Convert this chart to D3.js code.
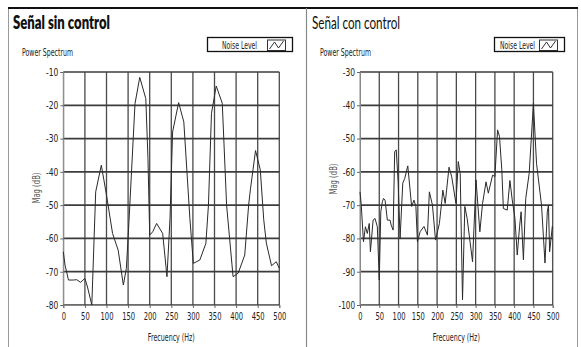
<!DOCTYPE html>
<html>
<head>
<meta charset="utf-8">
<script src="https://cdn.jsdelivr.net/npm/d3@7"></script>
<style>
  html, body { margin: 0; padding: 0; background: #fff; }
  svg { display: block; }
  .small { font-family: "DejaVu Sans", sans-serif; }
</style>
</head>
<body>
<svg id="chart" width="581" height="347"></svg>
<script>
// Spectrum without control: frequency (Hz) and magnitude (dB)
const freqSin = [0, 4, 12, 23, 31, 40, 50, 56, 66, 75, 88, 100, 114, 127, 139, 146, 152, 166, 177, 191, 196, 200, 207, 216, 230, 240, 247, 253, 267, 279, 293, 301, 316, 330, 336, 343, 354, 368, 378, 393, 405, 420, 429, 433, 445, 456, 464, 470, 482, 493, 500];
const magSin  = [-64, -68, -72.5, -72.5, -72.4, -73.2, -72, -74.6, -80, -46, -38, -47, -58.5, -63.5, -74, -69, -55, -19.5, -11.6, -18, -36, -59, -58, -55.5, -58.5, -71.5, -54, -28, -19.2, -25, -54, -67.5, -66.5, -61.5, -50, -22.4, -14.2, -19.4, -50, -71.5, -70.4, -65, -50, -45.4, -33.6, -39.4, -54.4, -61.4, -68.2, -67, -69];

// Spectrum with control
const freqCon = [0, 3, 9, 14, 19, 24, 27, 34, 39, 45, 50, 54, 58, 61, 65, 71, 78, 81, 86, 90, 94, 99, 104, 111, 116, 124, 130, 134, 140, 145, 149, 156, 166, 175, 180, 188, 196, 206, 212, 215, 221, 231, 238, 249, 255, 260, 266, 272, 278, 292, 301, 311, 318, 327, 333, 344, 350, 357, 362, 368, 372, 382, 389, 395, 402, 408, 414, 418, 424, 430, 439, 450, 458, 471, 480, 486, 489, 492, 499, 500];
const magCon  = [-66, -69.5, -81, -76.5, -78.5, -75.5, -84, -74.5, -74, -76.5, -92.5, -72, -69, -68, -68.5, -74.5, -74.5, -76, -77.5, -54, -53.4, -63, -80, -63.4, -62, -58.2, -65.5, -70.4, -68.5, -70.4, -81, -78, -76.4, -79, -66, -70, -80.5, -75.5, -69, -65.5, -69.5, -58.6, -61.5, -69.5, -56.9, -60.5, -98.4, -70.4, -74, -87, -62.4, -78, -69.5, -63, -66.4, -61, -61.4, -47.4, -49.4, -59.4, -71, -71.5, -62.6, -68.4, -74, -85, -76.5, -72, -86.4, -68, -60.4, -39.4, -57.4, -70, -87.4, -72, -70, -84, -76.4, -77];

// Tick values
const xTicks = [0, 50, 100, 150, 200, 250, 300, 350, 400, 450, 500];
const yTicksSin = [-10, -20, -30, -40, -50, -60, -70, -80];
const yTicksCon = [-30, -40, -50, -60, -70, -80, -90, -100];

const svg = d3.select("#chart");

// Squeeze small labels into a narrow, condensed look
function narrow(sel, perChar) {
  sel.attr("textLength", function () { return this.textContent.length * perChar; })
     .attr("lengthAdjust", "spacingAndGlyphs");
}

// Outer frame and panel divider
svg.append("rect").attr("x", 8.5).attr("y", 8).attr("width", 569).attr("height", 345)
  .attr("fill", "none").attr("stroke", "#9a9a9a").attr("stroke-width", 1);
svg.append("line").attr("x1", 8).attr("x2", 578).attr("y1", 8).attr("y2", 8)
  .attr("stroke", "#111").attr("stroke-width", 2);
svg.append("line").attr("x1", 306.5).attr("x2", 306.5).attr("y1", 8).attr("y2", 347)
  .attr("stroke", "#8a8a8a").attr("stroke-width", 1.2);

function drawPanel(cfg) {
  const g = svg.append("g");

  // Title
  g.append("text")
    .attr("x", cfg.titleX).attr("y", 29)
    .attr("font-family", "Lato, 'Open Sans', sans-serif")
    .attr("font-size", 18)
    .attr("font-weight", cfg.bold ? 800 : 400)
    .attr("fill", "#111")
    .attr("textLength", cfg.titleW).attr("lengthAdjust", "spacingAndGlyphs")
    .text(cfg.title);

  // "Power Spectrum" caption
  g.append("text").attr("class", "small")
    .attr("x", cfg.capX).attr("y", 56)
    .attr("font-size", 11).attr("fill", "#222")
    .attr("textLength", 51).attr("lengthAdjust", "spacingAndGlyphs")
    .text("Power Spectrum");

  // Legend box
  const lg = g.append("g");
  lg.append("rect").attr("x", cfg.legX).attr("y", 37.5).attr("width", cfg.legW).attr("height", 14)
    .attr("fill", "#fff").attr("stroke", "#111").attr("stroke-width", 1.3);
  lg.append("text").attr("class", "small")
    .attr("x", cfg.legTextX).attr("y", 48.5)
    .attr("font-size", 11).attr("fill", "#222")
    .attr("textLength", 35).attr("lengthAdjust", "spacingAndGlyphs")
    .text("Noise Level");
  const sx = cfg.legX + cfg.legW - 25;
  lg.append("rect").attr("x", sx).attr("y", 40).attr("width", 18).attr("height", 11)
    .attr("fill", "#fff").attr("stroke", "#333").attr("stroke-width", 1);
  lg.append("line").attr("x1", sx).attr("x2", sx + 18).attr("y1", 51).attr("y2", 51)
    .attr("stroke", "#111").attr("stroke-width", 1.6);
  lg.append("path")
    .attr("d", `M${sx + 2},${49} L${sx + 7},${42} L${sx + 11},${48} L${sx + 16},${41}`)
    .attr("fill", "none").attr("stroke", "#333").attr("stroke-width", 1);

  const x = d3.scaleLinear().domain([0, 500]).range([cfg.x0, cfg.x1]);
  const y = d3.scaleLinear().domain(cfg.yDomain).range([cfg.yBottom, cfg.yTop]);

  // Grid
  const grid = g.append("g");
  grid.selectAll("line.v").data(xTicks).join("line").attr("class", "v")
    .attr("x1", d => x(d)).attr("x2", d => x(d))
    .attr("y1", cfg.yTop).attr("y2", cfg.yBottom)
    .attr("stroke", d => d === 0 ? "#888" : "#4a4a4a")
    .attr("stroke-width", d => d === 0 ? 1 : 1.3);
  grid.selectAll("line.h").data(cfg.yTicks).join("line").attr("class", "h")
    .attr("x1", cfg.x0).attr("x2", cfg.x1)
    .attr("y1", d => y(d)).attr("y2", d => y(d))
    .attr("stroke", "#3c3c3c").attr("stroke-width", 1.7);

  // Axes
  const yAxis = d3.axisLeft(y).tickValues(cfg.yTicks).tickSize(3).tickPadding(2)
    .tickFormat(d => String(d));
  const ya = g.append("g").attr("transform", `translate(${cfg.x0},0)`).call(yAxis);
  const xAxis = d3.axisBottom(x).tickValues(xTicks).tickSize(3).tickPadding(5)
    .tickFormat(d => String(d));
  const xa = g.append("g").attr("transform", `translate(0,${cfg.yBottom})`).call(xAxis);
  [ya, xa].forEach(a => {
    a.select(".domain").attr("stroke", "#888");
    a.selectAll(".tick line").attr("stroke", "#666");
    a.selectAll(".tick text").attr("class", "small")
      .attr("font-size", 10.5).attr("fill", "#222");
  });
  narrow(ya.selectAll(".tick text"), 4.1);
  narrow(xa.selectAll(".tick text"), 4.3);

  // Axis titles
  g.append("text").attr("class", "small")
    .attr("transform", `translate(${cfg.yTitleX},${cfg.yTitleY}) rotate(-90)`)
    .attr("text-anchor", "middle").attr("font-size", 10).attr("fill", "#555")
    .attr("textLength", 31).attr("lengthAdjust", "spacingAndGlyphs")
    .text("Mag (dB)");
  g.append("text").attr("class", "small")
    .attr("x", (cfg.x0 + cfg.x1) / 2).attr("y", 341)
    .attr("text-anchor", "middle").attr("font-size", 11).attr("fill", "#222")
    .attr("textLength", 47).attr("lengthAdjust", "spacingAndGlyphs")
    .text("Frecuency (Hz)");

  // Spectrum trace
  const line = d3.line().x(d => x(d[0])).y(d => y(d[1]));
  g.append("path")
    .datum(d3.zip(cfg.freq, cfg.mag))
    .attr("d", line)
    .attr("fill", "none").attr("stroke", "#2a2a2a").attr("stroke-width", 1);
}

drawPanel({
  title: "Señal sin control", bold: true, titleX: 13, titleW: 97,
  capX: 22, legX: 207.5, legW: 85, legTextX: 222,
  x0: 63.3, x1: 279.3, yTop: 72, yBottom: 305,
  yDomain: [-80, -10], yTicks: yTicksSin,
  yTitleX: 40, yTitleY: 188,
  freq: freqSin, mag: magSin
});

drawPanel({
  title: "Señal con control", bold: false, titleX: 312, titleW: 88,
  capX: 320, legX: 494.5, legW: 70, legTextX: 500,
  x0: 360, x1: 552.7, yTop: 72, yBottom: 305,
  yDomain: [-100, -30], yTicks: yTicksCon,
  yTitleX: 337, yTitleY: 179,
  freq: freqCon, mag: magCon
});
</script>
</body>
</html>
